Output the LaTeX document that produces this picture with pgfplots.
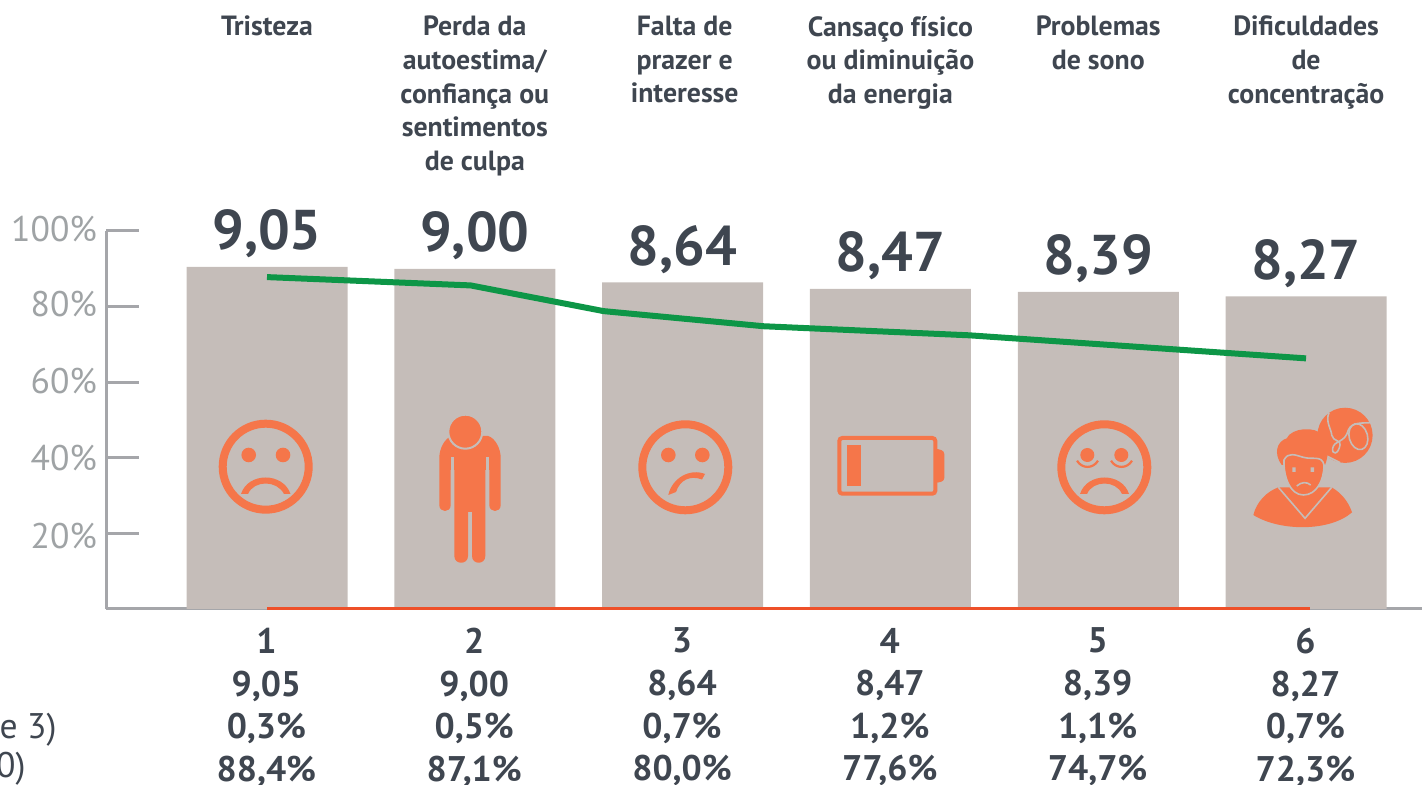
\documentclass[border=0pt]{standalone}
\usepackage{fontspec}
\setmainfont{PT Sans}
\usepackage{pgfplots}
\pgfplotsset{compat=1.18}
\definecolor{barc}{HTML}{C5BDB9}
\definecolor{axisc}{HTML}{A5A6AA}
\definecolor{tickc}{HTML}{9FA3A5}
\definecolor{textc}{HTML}{3F4650}
\definecolor{greenc}{HTML}{0D9647}
\definecolor{redc}{HTML}{EE5029}
\definecolor{iconc}{HTML}{F5764A}
\newcommand{\yl}[2]{\raisebox{#1}[13pt][0pt]{#2\%}}
\begin{document}
\begin{tikzpicture}
\useasboundingbox (0,0) rectangle (711pt,392.5pt);
\begin{axis}[
  at={(53pt,88pt)}, anchor=south west,
  scale only axis, width=658pt, height=189pt,
  xmin=0.2252, xmax=6.558, ymin=0, ymax=100,
  clip=false,
  axis lines=left, axis line style={draw=axisc, line width=1.5pt, -},
  axis x line*=bottom, axis y line*=left,
  xtick={1,2,3,4,5,6},
  xticklabels={
    {1\\9,05\\0,3\%\\88,4\%},
    {2\\9,00\\0,5\%\\87,1\%},
    {3\\8,64\\0,7\%\\80,0\%},
    {4\\8,47\\1,2\%\\77,6\%},
    {5\\8,39\\1,1\%\\74,7\%},
    {6\\8,27\\0,7\%\\72,3\%}},
  x tick style={draw=none},
  xticklabel style={align=center, text=textc, font=\fontsize{17.8}{21.3}\selectfont\bfseries, yshift=-6pt, xshift=-0.3pt},
  ytick={20,40,60,80,100},
  yticklabels={\yl{-1pt}{20},\yl{0pt}{40},\yl{1pt}{60},\yl{1.5pt}{80},\yl{1pt}{100}},
  y tick style={draw=axisc, line width=1.5pt},
  tick align=inside,
  major tick length=16.5pt,
  yticklabel style={text=tickc, font=\fontsize{17.8}{22}\selectfont, xshift=-1pt},
]
\addplot[ybar, bar width=80.5pt, bar shift=0pt, fill=barc, draw=none,
  point meta=explicit,
  nodes near coords={\pgfmathprintnumber[assume math mode=true,fixed,fixed zerofill,precision=2,use comma]{\pgfplotspointmeta}},
  nodes near coords style={text=textc, font=\fontsize{28}{30}\selectfont\bfseries, anchor=south, yshift=1pt}]
  table[x=x,y=y,meta=m] {
x y m
1 90.5 9.05
2 90.0 9.00
3 86.4 8.64
4 84.7 8.47
5 83.9 8.39
6 82.7 8.27
};
\addplot[draw=greenc, line width=3pt, no marks] coordinates {
 (1,87.8) (1.98,85.6) (2.62,78.8) (3.39,74.8) (4.38,72.4) (6,66.3)};
\addplot[draw=redc, line width=1.5pt, no marks] coordinates {(1,0) (6.02,0)};
\node[anchor=north, align=center, text=textc, font=\fontsize{13.9}{16.8}\selectfont\bfseries] at (axis cs:1,158.7) {Tristeza};
\node[anchor=north, align=center, text=textc, font=\fontsize{13.9}{16.8}\selectfont\bfseries] at (axis cs:2,158.7) {Perda da\\autoestima/\\confiança ou\\sentimentos\\de culpa};
\node[anchor=north, align=center, text=textc, font=\fontsize{13.9}{16.8}\selectfont\bfseries] at (axis cs:3.01,158.7) {Falta de\\prazer e\\interesse};
\node[anchor=north, align=center, text=textc, font=\fontsize{13.9}{16.8}\selectfont\bfseries] at (axis cs:4,158.7) {Cansaço físico\\ou diminuição\\da energia};
\node[anchor=north, align=center, text=textc, font=\fontsize{13.9}{16.8}\selectfont\bfseries] at (axis cs:5,158.7) {Problemas\\de sono};
\node[anchor=north, align=center, text=textc, font=\fontsize{13.9}{16.8}\selectfont\bfseries] at (axis cs:6,158.7) {Dificuldades\\de\\concentração};
\end{axis}
\begin{scope}[shift={(0,392.5pt)},x=0.5pt,y=-0.5pt]
% clipped row labels
\node[anchor=east, inner sep=0pt, text=textc, font=\fontsize{17.8}{20}\selectfont] at (57,730) {e 3)};
\node[anchor=east, inner sep=0pt, text=textc, font=\fontsize{17.8}{20}\selectfont] at (26,769) {0)};
% face 1
\draw[iconc, line width=4pt] (265.7,466.7) circle (21.5pt);
\fill[iconc] (248.7,455) circle (3.65pt) (283,455) circle (3.65pt);
\fill[iconc] (241,494) .. controls (248,472) and (283,472) .. (290.5,494) -- (284,494) .. controls (277,480) and (254,480) .. (248,494) -- cycle;
% person
\fill[iconc] (439.3,505) -- (439.3,458) .. controls (439.3,448) and (445,438) .. (452,436) -- (488,436) .. controls (495,438) and (500.7,448) .. (500.7,458) -- (500.7,505) .. controls (500.7,513) and (489.3,513) .. (489.3,505) -- (489.3,470) -- (485.3,470) -- (485.3,556) .. controls (485.3,565) and (472,565) .. (472,556) -- (472,512) -- (468,512) -- (468,556) .. controls (468,565) and (454.3,565) .. (454.3,556) -- (454.3,470) -- (450.7,470) -- (450.7,505) .. controls (450.7,513) and (439.3,513) .. (439.3,505) -- cycle;
\draw[barc, line width=1.3pt] (452.6,457) -- (452.6,512);
\draw[barc, line width=1.3pt] (487.4,457) -- (487.4,512);
\draw[barc, line width=1pt, fill=iconc] (465.3,431.7) circle (8.5pt);
% face 3
\draw[iconc, line width=4pt] (685.3,467.3) circle (21.5pt);
\fill[iconc] (668.3,455) circle (3.65pt) (702.3,455) circle (3.65pt);
\fill[iconc] (668.3,495) .. controls (672,478) and (690,468) .. (705,474) -- (702,479.5) .. controls (690,475) and (680,480) .. (676,492) -- cycle;
% battery
\draw[iconc, line width=2pt, rounded corners=1.5pt] (839.3,438) rectangle (935.3,493.7);
\fill[iconc] (846.7,445) rectangle (860.7,486);
\fill[iconc, rounded corners=1.5pt] (935,448.3) -- (944.3,451) -- (944.3,481) -- (935,483.3) -- cycle;
% face 5
\draw[iconc, line width=4pt] (1104.3,467.3) circle (21.5pt);
\fill[iconc] (1087.3,455) circle (3.5pt) (1121.3,455) circle (3.5pt);
\draw[iconc, line width=1.1pt] (1077,460.7) .. controls (1082,469) and (1093,469) .. (1098,460.7);
\draw[iconc, line width=1.1pt] (1111,460.7) .. controls (1116,469) and (1127,469) .. (1132,460.7);
\fill[iconc] (1080,494) .. controls (1087,472) and (1122,472) .. (1129,494) -- (1122,494) .. controls (1116,480) and (1093,480) .. (1087,494) -- cycle;
% person with thought
\begin{scope}[shift={(1030,380)},x=0.16667pt,y=-0.16667pt]
\fill[iconc] (945,166) circle (13.8pt);
\draw[barc, line width=0.8pt] (897,98) .. controls (885,125) and (905,150) .. (905,165) .. controls (908,185) and (935,180) .. (930,195) .. controls (925,225) and (905,225) .. (908,205) .. controls (912,180) and (945,190) .. (955,150) .. controls (965,125) and (1000,130) .. (1020,128);
\draw[barc, line width=0.8pt] (985,170) circle[x radius=4.6pt, y radius=6.6pt, rotate=15];
\draw[barc, line width=0.8pt] (890,228) -- (930,248);
% bust
\fill[iconc] (670,405) .. controls (680,365) and (710,335) .. (745,322) -- (905,322) .. controls (935,340) and (955,365) .. (966,397) .. controls (900,455) and (750,455) .. (670,405) -- cycle;
\draw[barc, line width=0.8pt] (745,322) -- (825,415) -- (905,322);
% hair
\fill[iconc] (755,255) .. controls (730,220) and (740,185) .. (770,175) .. controls (785,143) and (855,138) .. (878,165) .. controls (900,190) and (895,230) .. (885,255) -- cycle;
% face
\draw[barc, line width=0.8pt, fill=iconc] (762,240) .. controls (775,215) and (795,225) .. (820,232) .. controls (850,240) and (875,225) .. (882,255) .. controls (882,300) and (860,345) .. (820,345) .. controls (780,345) and (760,290) .. (762,240) -- cycle;
\fill[barc] (787,262) rectangle (797,276) (842,262) rectangle (852,276);
\draw[barc, line width=0.8pt] (800,318) .. controls (815,305) and (830,305) .. (842,315);
\end{scope}
\end{scope}
\end{tikzpicture}
\end{document}
